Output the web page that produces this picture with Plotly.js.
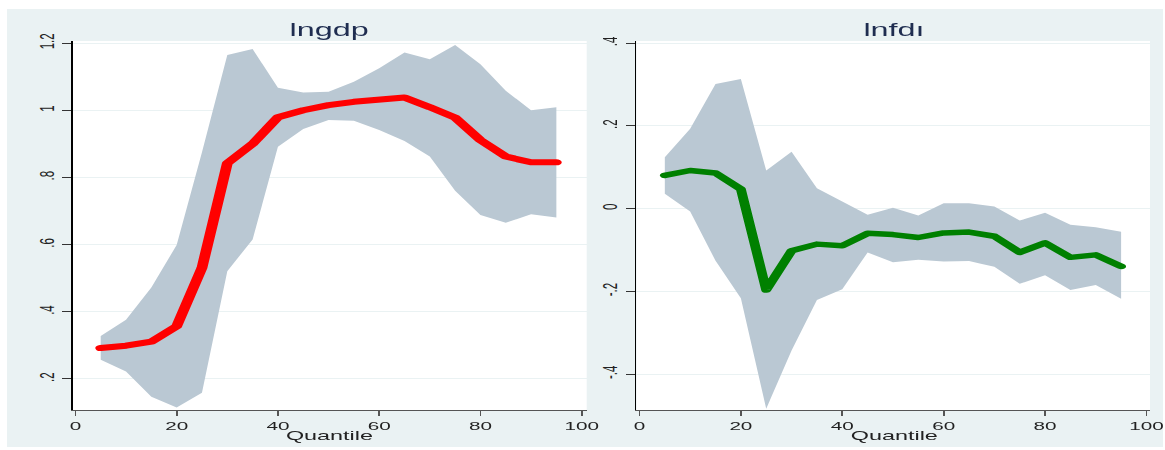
<!DOCTYPE html>
<html>
<head>
<meta charset="utf-8">
<script src="https://cdn.plot.ly/plotly-3.0.1.min.js"></script>
<style>
  html, body { margin: 0; padding: 0; background: #ffffff; width: 1165px; height: 450px; overflow: hidden; }
  #wrap { position: absolute; left: 7px; top: 9px; width: 1155px; height: 438px; background: #EAF2F3; }
  #chart { width: 642px; height: 438px; transform: scaleX(1.7991); transform-origin: 0 0; }
  #chart svg { overflow: visible; }
  #chart .js-line { stroke-linecap: round; stroke-linejoin: round; }
</style>
</head>
<body>
<div id="wrap"><div id="chart"></div></div>
<script>
// Quantiles
const quantiles = [5, 10, 15, 20, 25, 30, 35, 40, 45, 50, 55, 60, 65, 70, 75, 80, 85, 90, 95];

// lngdp
const gdpCoef  = [0.292, 0.299, 0.311, 0.357, 0.531, 0.842, 0.900, 0.979, 1.000, 1.015, 1.025, 1.030, 1.038, 1.009, 0.978, 0.911, 0.862, 0.845, 0.845];
const gdpUpper = [0.328, 0.376, 0.472, 0.599, 0.875, 1.164, 1.182, 1.067, 1.053, 1.055, 1.085, 1.125, 1.172, 1.152, 1.194, 1.137, 1.058, 1.000, 1.009];
const gdpLower = [0.257, 0.222, 0.147, 0.115, 0.159, 0.521, 0.615, 0.891, 0.944, 0.971, 0.969, 0.941, 0.908, 0.862, 0.760, 0.688, 0.665, 0.690, 0.681];

// lnfdi
const fdiCoef  = [0.080, 0.092, 0.086, 0.047, -0.197, -0.102, -0.086, -0.090, -0.060, -0.063, -0.070, -0.059, -0.057, -0.067, -0.106, -0.083, -0.118, -0.112, -0.140];
const fdiUpper = [0.124, 0.193, 0.301, 0.313, 0.092, 0.137, 0.049, 0.017, -0.015, 0.002, -0.017, 0.013, 0.013, 0.005, -0.029, -0.010, -0.039, -0.045, -0.056];
const fdiLower = [0.036, -0.007, -0.126, -0.217, -0.484, -0.343, -0.221, -0.195, -0.106, -0.130, -0.124, -0.128, -0.127, -0.141, -0.182, -0.161, -0.197, -0.185, -0.218];

// Tick labels
const xTickVals = [0, 20, 40, 60, 80, 100];
const xTickText = ['0', '20', '40', '60', '80', '100'];
const gdpTickVals = [0.2, 0.4, 0.6, 0.8, 1.0, 1.2];
const gdpTickText = ['.2', '.4', '.6', '.8', '1', '1.2'];
const fdiTickVals = [-0.4, -0.2, 0, 0.2, 0.4];
const fdiTickText = ['-.4', '-.2', '0', '.2', '.4'];

const panelTitles = ['lngdp', 'lnfdı'];
const xTitle = 'Quantile';

const bandColor = '#BAC8D3';
const bg = '#EAF2F3';
const fontFam = 'Liberation Sans, Arial, sans-serif';

function band(lower, upper, xa, ya) {
  return [
    { x: quantiles, y: lower, xaxis: xa, yaxis: ya, mode: 'lines', line: { width: 0, color: bandColor }, hoverinfo: 'skip', showlegend: false },
    { x: quantiles, y: upper, xaxis: xa, yaxis: ya, mode: 'lines', fill: 'tonexty', fillcolor: bandColor, line: { width: 0, color: bandColor }, hoverinfo: 'skip', showlegend: false }
  ];
}

const traces = [
  ...band(gdpLower, gdpUpper, 'x', 'y'),
  { x: quantiles, y: gdpCoef, xaxis: 'x', yaxis: 'y', mode: 'lines', line: { color: '#FF0000', width: 6 }, showlegend: false },
  ...band(fdiLower, fdiUpper, 'x2', 'y2'),
  { x: quantiles, y: fdiCoef, xaxis: 'x2', yaxis: 'y2', mode: 'lines', line: { color: '#008000', width: 5.5 }, showlegend: false }
];

function xAxis(domain, range, anchor) {
  return {
    domain: domain, range: range, anchor: anchor,
    tickmode: 'array', tickvals: xTickVals, ticktext: xTickText,
    ticks: 'outside', ticklen: 5, tickwidth: 1, tickcolor: '#555',
    showline: true, linecolor: '#555', linewidth: 1,
    showgrid: false, zeroline: false,
    ticklabeloverflow: 'allow',
    tickfont: { family: fontFam, size: 11.5, color: '#222' },
    fixedrange: true
  };
}
function yAxis(range, vals, text, anchor) {
  return {
    range: range, anchor: anchor, domain: [0, 1],
    tickmode: 'array', tickvals: vals, ticktext: text, tickangle: -90,
    ticks: 'outside', ticklen: 5, tickwidth: 1, tickcolor: '#333',
    showline: true, linecolor: '#000', linewidth: 1,
    showgrid: true, gridcolor: bg, gridwidth: 1, zeroline: false,
    ticklabeloverflow: 'allow',
    tickfont: { family: fontFam, size: 11.5, color: '#222' },
    fixedrange: true
  };
}

const xd1 = [0.0569, 0.5019];
const xd2 = [0.5450, 0.9896];

const layout = {
  width: 642, height: 438,
  margin: { l: 0, r: 0, t: 32, b: 37, pad: 0 },
  paper_bgcolor: bg, plot_bgcolor: '#ffffff',
  showlegend: false,
  xaxis: xAxis(xd1, [-0.53, 100.99], 'y'),
  yaxis: yAxis([0.1077, 1.206], gdpTickVals, gdpTickText, 'x'),
  xaxis2: xAxis(xd2, [-0.59, 100.7], 'y2'),
  yaxis2: yAxis([-0.487, 0.405], fdiTickVals, fdiTickText, 'x2'),
  annotations: [
    { text: panelTitles[0], xref: 'paper', yref: 'paper', x: (xd1[0] + xd1[1]) / 2, y: 1.03, xanchor: 'center', yanchor: 'middle', showarrow: false, font: { family: fontFam, size: 18, color: '#1f2d50' } },
    { text: panelTitles[1], xref: 'paper', yref: 'paper', x: (xd2[0] + xd2[1]) / 2, y: 1.03, xanchor: 'center', yanchor: 'middle', showarrow: false, font: { family: fontFam, size: 18, color: '#1f2d50' } },
    { text: xTitle, xref: 'paper', yref: 'paper', x: (xd1[0] + xd1[1]) / 2, y: -0.068, xanchor: 'center', yanchor: 'middle', showarrow: false, font: { family: fontFam, size: 13, color: '#222' } },
    { text: xTitle, xref: 'paper', yref: 'paper', x: (xd2[0] + xd2[1]) / 2, y: -0.068, xanchor: 'center', yanchor: 'middle', showarrow: false, font: { family: fontFam, size: 13, color: '#222' } }
  ]
};

Plotly.newPlot('chart', traces, layout, { staticPlot: true, displayModeBar: false });
</script>
</body>
</html>
